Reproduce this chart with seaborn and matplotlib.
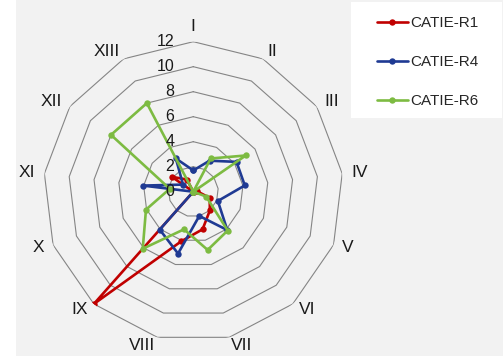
import numpy as np
import pandas as pd
import matplotlib
matplotlib.use("Agg")
import matplotlib.pyplot as plt
import matplotlib.transforms as mtransforms
from matplotlib.patches import Rectangle
import seaborn as sns

categories = ["I", "II", "III", "IV", "V", "VI", "VII", "VIII", "IX", "X", "XI", "XII", "XIII"]
catie_r1 = [0, 0, 0, 0.3, 1.4, 2.0, 3.1, 4.1, 12.0, 0, 0, 2.1, 1.1]
catie_r4 = [1.7, 2.8, 4.2, 4.15, 2.1, 4.1, 2.0, 5.1, 4.05, 0, 4.05, 1.0, 3.0]
catie_r6 = [0, 3.0, 5.1, 0, 1.1, 4.15, 4.8, 3.1, 6.1, 4.05, 1.9, 8.0, 8.0]
series_names = ["CATIE-R1", "CATIE-R4", "CATIE-R6"]
ring_levels = [2, 4, 6, 8, 10, 12]
tick_levels = [0, 2, 4, 6, 8, 10, 12]

colors = ["#C00000", "#1F3A93", "#7DBB42"]
bg = "#F2F2F2"

n = len(categories)
theta = np.linspace(0, 2 * np.pi, n, endpoint=False)
theta_closed = np.append(theta, 2 * np.pi)

rows = []
for name, vals in zip(series_names, [catie_r1, catie_r4, catie_r6]):
    closed = list(vals) + [vals[0]]
    for t, v in zip(theta_closed, closed):
        rows.append({"theta": t, "value": v, "series": name})
df = pd.DataFrame(rows)

sns.set_style("white")
plt.rcParams["font.family"] = ["Liberation Sans", "DejaVu Sans"]

fig = plt.figure(figsize=(5.03, 3.56), dpi=100)
fig.patch.set_facecolor("white")
fig.patches.append(Rectangle((16 / 503, 0), 1, 1, transform=fig.transFigure,
                             facecolor=bg, edgecolor="none", zorder=-10))
fig.patches.append(Rectangle((351 / 503, 1 - 118 / 356), 151 / 503, 116 / 356,
                             transform=fig.transFigure, facecolor="white",
                             edgecolor="none", zorder=-5))

ax = fig.add_axes([0.0861, 0.0402, 0.5964, 0.8427], projection="polar")
ax.set_theta_zero_location("N")
ax.set_theta_direction(-1)
ax.patch.set_alpha(0)

# polygon rings
for lvl in ring_levels:
    ax.plot(theta_closed, [lvl] * len(theta_closed), color="#858585", lw=0.8, zorder=1)

sns.lineplot(data=df, x="theta", y="value", hue="series", palette=colors,
             sort=False, estimator=None, marker="o", markersize=4.6,
             markeredgewidth=0, linewidth=1.9, ax=ax, zorder=3)

ax.set_ylim(0, 12)
ax.set_xticks([])
ax.set_yticks([])
ax.grid(False)
ax.spines["polar"].set_visible(False)
ax.set_xlabel("")
ax.set_ylabel("")

# radial tick labels, left of the top spoke
off = mtransforms.offset_copy(ax.transData, fig=fig, x=-19, y=0, units="dots")
for lvl in tick_levels:
    ax.text(0, lvl, str(lvl), transform=off, ha="right", va="center",
            fontsize=11.5, color="#1A1A1A")

# category labels, set beside the outer ring like Excel does
for t, lab in zip(theta, categories):
    sx, sy = np.sin(t), np.cos(t)
    if sx > 0.05:
        ha, va = "left", "center"
    elif sx < -0.05:
        ha, va = "right", "center"
    else:
        ha, va = "center", "bottom"
    tr = mtransforms.offset_copy(ax.transData, fig=fig, x=9 * sx, y=8 * sy, units="dots")
    ax.text(t, 12, lab, transform=tr, ha=ha, va=va, fontsize=12.5,
            color="#1A1A1A", clip_on=False)

handles, labels = ax.get_legend_handles_labels()
ax.legend_.remove()
fig.legend(handles, labels, loc="upper left", bbox_to_anchor=(377 / 503, 1 - 16 / 356),
           frameon=False, handlelength=2.0, handletextpad=0.15,
           labelspacing=1.65, borderpad=0, borderaxespad=0,
           prop={"family": ["Liberation Sans", "DejaVu Sans"], "size": 11})

fig.savefig("out.png", dpi=100, facecolor=fig.get_facecolor())
